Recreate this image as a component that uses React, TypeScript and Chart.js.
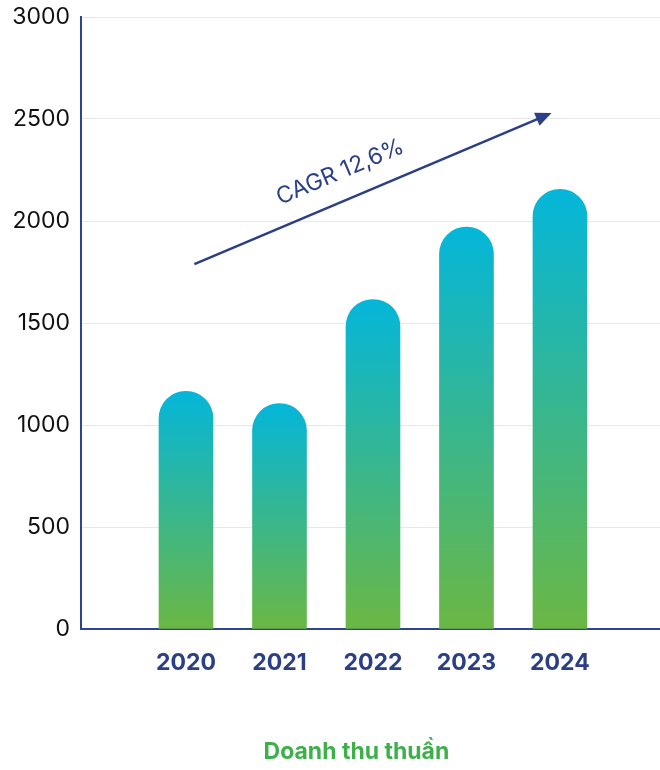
import React, { useEffect, useRef } from "react";
import { Chart, registerables } from "chart.js";

Chart.register(...registerables);

const years = [2020, 2021, 2022, 2023, 2024];
const revenue = [1165, 1105, 1615, 1970, 2155];
const yTicks = [0, 500, 1000, 1500, 2000, 2500, 3000];
const arrowFrom = { x: 2020.09, y: 1789 };
const arrowTo = { x: 2023.91, y: 2529 };
const cagrLabel = "CAGR 12,6%";
const cagrAt = { x: 2021.65, y: 2240 };
const chartTitle = "Doanh thu thuần";

const NAVY = "#2b3f86";
const AXIS = "#2b4590";

const annotationPlugin = {
  id: "cagrArrow",
  afterDatasetsDraw(chart: any) {
    const { ctx, scales } = chart;
    const x = scales.x;
    const y = scales.y;
    const x1 = x.getPixelForValue(arrowFrom.x);
    const y1 = y.getPixelForValue(arrowFrom.y);
    const x2 = x.getPixelForValue(arrowTo.x);
    const y2 = y.getPixelForValue(arrowTo.y);
    const ang = Math.atan2(y2 - y1, x2 - x1);
    const head = 16;
    const half = 7;
    ctx.save();
    ctx.strokeStyle = NAVY;
    ctx.fillStyle = NAVY;
    ctx.lineWidth = 2.5;
    ctx.beginPath();
    ctx.moveTo(x1, y1);
    ctx.lineTo(x2 - Math.cos(ang) * head * 0.8, y2 - Math.sin(ang) * head * 0.8);
    ctx.stroke();
    ctx.beginPath();
    ctx.moveTo(x2, y2);
    const bx = x2 - Math.cos(ang) * head;
    const by = y2 - Math.sin(ang) * head;
    ctx.lineTo(bx + Math.sin(ang) * half, by - Math.cos(ang) * half);
    ctx.lineTo(bx - Math.sin(ang) * half, by + Math.cos(ang) * half);
    ctx.closePath();
    ctx.fill();
    const tx = x.getPixelForValue(cagrAt.x);
    const ty = y.getPixelForValue(cagrAt.y);
    ctx.translate(tx, ty);
    ctx.rotate(ang);
    ctx.font = "23px Inter";
    ctx.textAlign = "center";
    ctx.textBaseline = "middle";
    ctx.fillText(cagrLabel, 0, 0);
    ctx.restore();
  },
  afterDraw(chart: any) {
    const { ctx } = chart;
    ctx.save();
    ctx.font = "bold 23px Inter";
    ctx.fillStyle = "#3db04b";
    ctx.textAlign = "center";
    ctx.textBaseline = "middle";
    ctx.fillText(chartTitle, chart.width * 0.54, 752);
    ctx.restore();
  },
};

export default function App() {
  const ref = useRef<HTMLCanvasElement | null>(null);
  useEffect(() => {
    document.body.style.margin = "0";
    if (!ref.current) return;
    const chart = new Chart(ref.current, {
      type: "bar",
      data: {
        datasets: [
          {
            data: years.map((yr, i) => ({ x: yr, y: revenue[i] })),
            barThickness: 54,
            borderRadius: { topLeft: 27, topRight: 27, bottomLeft: 0, bottomRight: 0 },
            borderSkipped: "bottom",
            backgroundColor: (c: any) => {
              const ch = c.chart;
              const ys = ch.scales && ch.scales.y;
              if (!ys || !ch.chartArea) return "#2db59f";
              const v = revenue[c.dataIndex] ?? 0;
              const top = ys.getPixelForValue(v);
              const bot = ys.getPixelForValue(0);
              const g = ch.ctx.createLinearGradient(0, top, 0, bot);
              g.addColorStop(0, "#04b6da");
              g.addColorStop(1, "#6bb744");
              return g;
            },
          },
        ],
      },
      options: {
        animation: false,
        responsive: false,
        maintainAspectRatio: false,
        layout: { padding: { top: 17, left: 0, right: 0, bottom: 0 } },
        plugins: {
          legend: { display: false },
          tooltip: { enabled: false },
          title: { display: false },
        },
        scales: {
          x: {
            type: "linear",
            offset: false,
            min: 2018.877,
            max: 2025.07,
            grid: { display: false, drawTicks: false },
            border: { display: true, color: AXIS, width: 2 },
            afterBuildTicks: (s: any) => {
              s.ticks = years.map((v) => ({ value: v }));
            },
            ticks: {
              color: NAVY,
              font: { family: "Inter", size: 23, weight: "bold" },
              padding: 20,
              autoSkip: false,
              maxRotation: 0,
              callback: (v: any) => String(v),
            },
            afterFit: (s: any) => {
              s.height = 141;
              s.paddingLeft = 0;
              s.paddingRight = 0;
            },
          },
          y: {
            min: 0,
            max: 3000,
            afterBuildTicks: (s: any) => {
              s.ticks = yTicks.map((v) => ({ value: v }));
            },
            grid: { color: "#e8e8e8", lineWidth: 1, drawTicks: false },
            border: { display: true, color: AXIS, width: 2 },
            ticks: {
              color: "#111111",
              font: { family: "Inter", size: 23 },
              padding: 11,
              callback: (v: any) => String(v),
            },
            afterFit: (s: any) => {
              s.width = 81;
              s.paddingTop = 0;
              s.paddingBottom = 0;
            },
          },
        },
      },
      plugins: [annotationPlugin],
    });
    return () => chart.destroy();
  }, []);
  return (
    <div style={{ position: "fixed", left: 0, top: 0, width: 660, height: 770 }}>
      <canvas ref={ref} width={660} height={770} style={{ width: 660, height: 770 }} />
    </div>
  );
}
